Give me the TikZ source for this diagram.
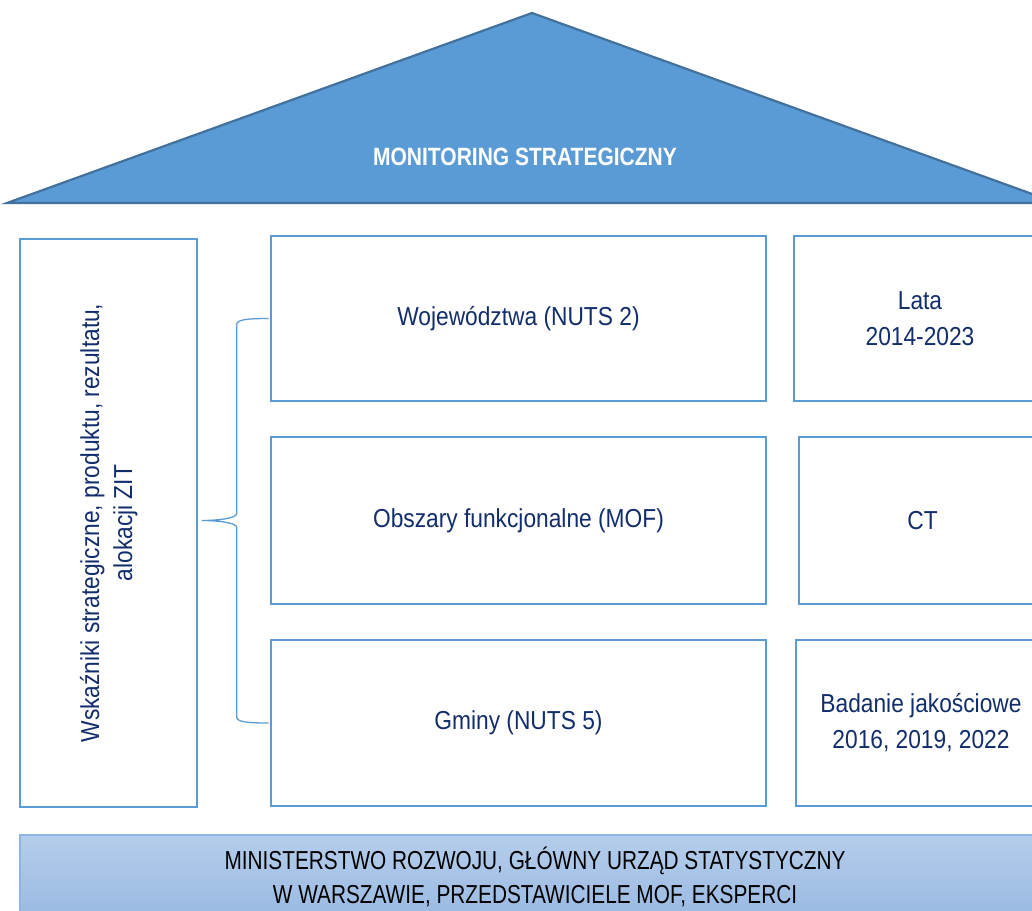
\documentclass[tikz,border=0pt]{standalone}
\usepackage{fontspec}
\usetikzlibrary{calc}
\newfontfamily\boxfont[FakeStretch=0.875]{Liberation Sans}
\newfontfamily\roofont[FakeStretch=0.84]{Liberation Sans}
\newfontfamily\barfont[FakeStretch=0.8]{Liberation Sans}
\definecolor{bordblue}{HTML}{5B9BD5}
\definecolor{roofblue}{HTML}{5B9BD5}
\definecolor{roofedge}{HTML}{41719C}
\definecolor{navy}{HTML}{112D6B}
\definecolor{bartop}{HTML}{B4CDEB}
\definecolor{barbot}{HTML}{97B8E2}
\definecolor{baredge}{HTML}{8EB4E3}
\tikzset{
  box/.style={draw=bordblue, line width=2.6pt, rectangle, inner sep=0pt,
    text=navy, align=center, font=\boxfont\fontsize{26}{36}\selectfont},
  rooftext/.style={text=white, font=\roofont\bfseries\fontsize{25}{30}\selectfont},
  bar/.style={draw=baredge, line width=1.5pt, top color=bartop, bottom color=barbot,
    rectangle, inner sep=0pt},
  bartext/.style={align=center, text=black, inner sep=0pt,
    font=\barfont\fontsize{26}{34}\selectfont},
  bracel/.style={draw=bordblue, line width=1.3pt}
}
\begin{document}
\begin{tikzpicture}[x=1pt,y=-1pt]
\useasboundingbox (0,0) rectangle (1032,910);
% roof
\draw[fill=roofblue, draw=roofedge, line width=2.2pt, line join=miter]
  (7,203) -- (532,13) -- (1057,203) -- cycle;
\node[rooftext] (roof) at (525,157) {MONITORING STRATEGICZNY};
% left box
\node[box, minimum width=177pt, minimum height=568pt] (ind) at (108.5,523)
  {\rotatebox{90}{\begin{tabular}{@{}c@{}}Wskaźniki strategiczne, produktu, rezultatu,\\[-3pt] alokacji ZIT\end{tabular}}};
% middle boxes
\node[box, minimum width=495pt, minimum height=165pt] (woj) at (518.5,318.5) {Województwa (NUTS 2)};
\node[box, minimum width=495pt, minimum height=167pt] (mof) at (518.5,520.5) {Obszary funkcjonalne (MOF)};
\node[box, minimum width=495pt, minimum height=166pt] (gmi) at (518.5,723) {Gminy (NUTS 5)};
% right boxes
\node[box, minimum width=252pt, minimum height=165pt] (lata) at (920,318.5) {Lata\\2014-2023};
\node[box, minimum width=247pt, minimum height=167pt] (ct) at (922.5,520.5) {CT};
\node[box, minimum width=250pt, minimum height=166pt] (bad) at (921,723) {Badanie jakościowe\\2016, 2019, 2022};
% bottom bar
\node[bar, minimum width=1030pt, minimum height=92pt] (min) at (535,881) {};
\node[bartext] (mintext) at (535,877)
  {MINISTERSTWO ROZWOJU, GŁÓWNY URZĄD STATYSTYCZNY\\W WARSZAWIE, PRZEDSTAWICIELE MOF, EKSPERCI};
% brace
\coordinate (tip) at ($(mof.west)+(-68,0)$);
\draw[bracel]
  ($(woj.west)+(-1,0)$) .. controls ($(woj.west)+(-22,0)$) and ($(woj.west)+(-33,1)$) .. ($(woj.west)+(-33,6)$)
  -- ($(mof.west)+(-33,-7)$)
  .. controls ($(mof.west)+(-33,-2)$) and ($(tip)+(15,0)$) .. (tip)
  .. controls ($(tip)+(15,0)$) and ($(mof.west)+(-33,2)$) .. ($(mof.west)+(-33,7)$)
  -- ($(gmi.west)+(-33,-6)$)
  .. controls ($(gmi.west)+(-33,-1)$) and ($(gmi.west)+(-22,0)$) .. ($(gmi.west)+(-1,0)$);
\end{tikzpicture}
\end{document}
